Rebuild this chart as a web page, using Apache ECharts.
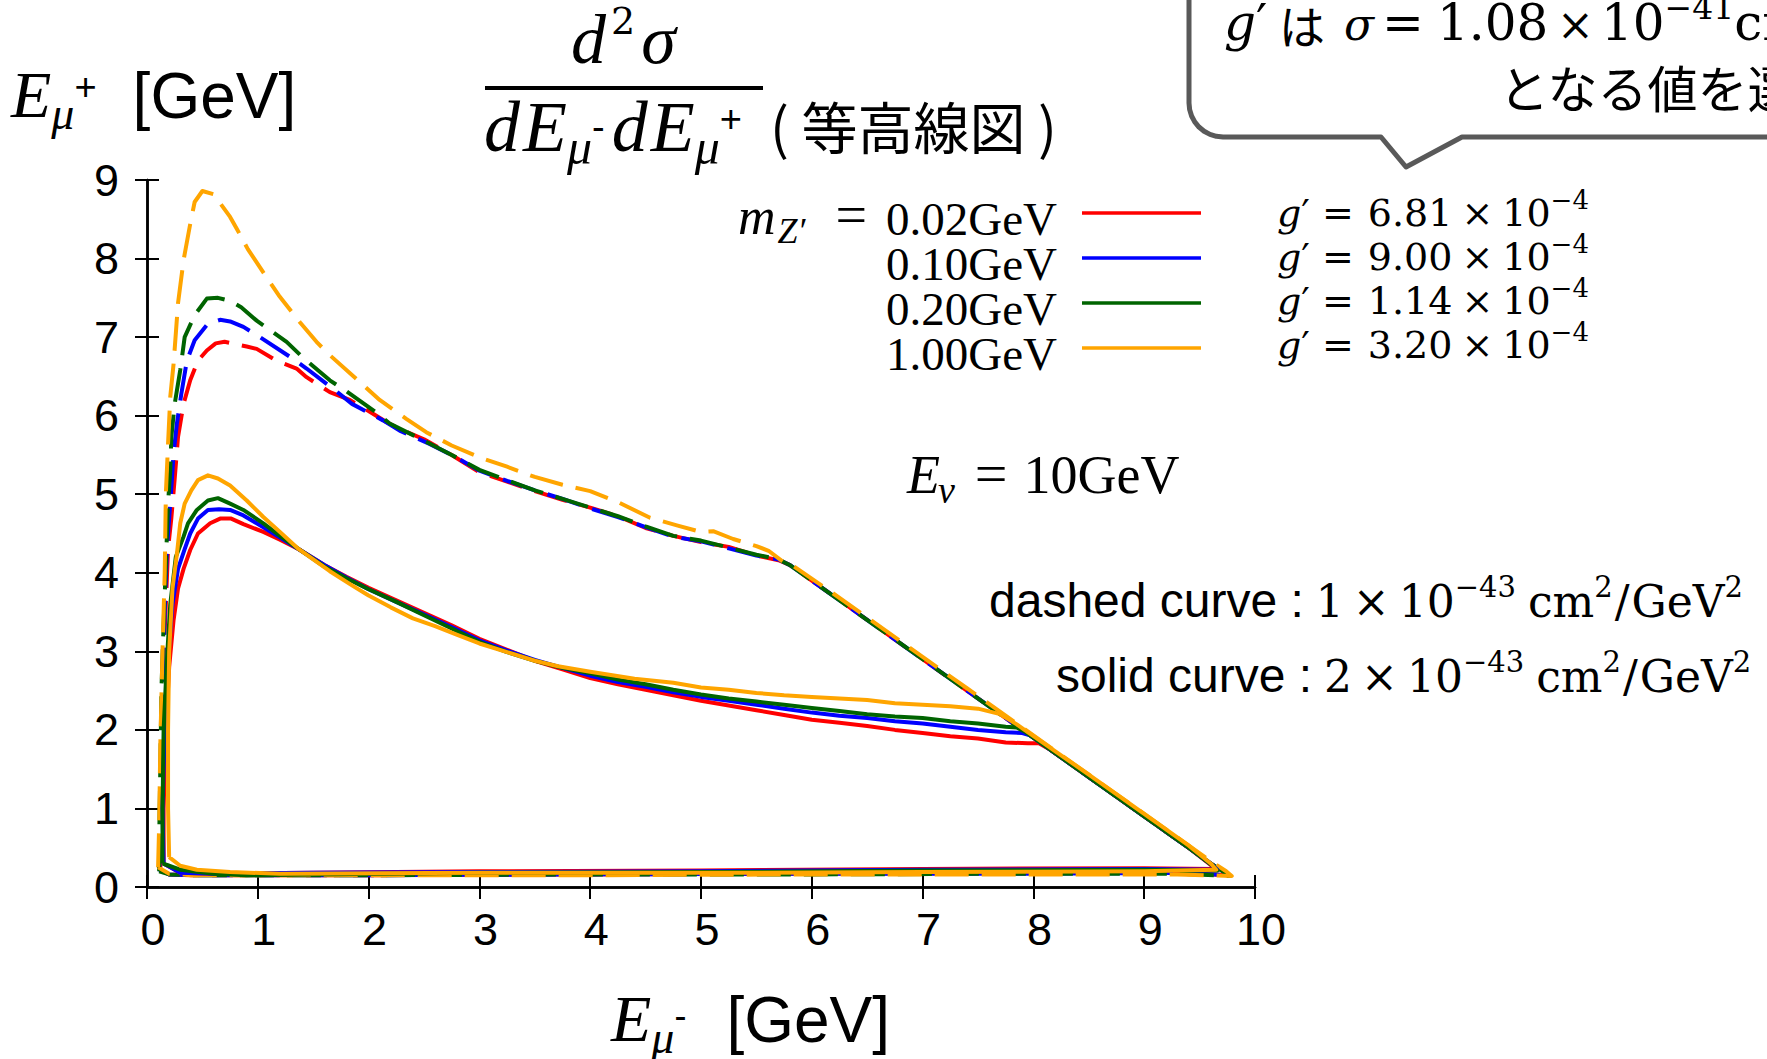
<!DOCTYPE html>
<html>
<head>
<meta charset="utf-8">
<script src="https://cdn.jsdelivr.net/npm/echarts@6/dist/echarts.min.js"></script>
<style>
  html, body { margin: 0; padding: 0; background: #fff; }
  #chart { width: 1767px; height: 1059px; }
</style>
</head>
<body>
<div id="chart"></div>
<script>
// contour lines of d2sigma/dE-dE+ , [E_mu-, E_mu+] in GeV
const massLabels = ['0.02GeV', '0.10GeV', '0.20GeV', '1.00GeV'];
const couplings = ['6.81', '9.00', '1.14', '3.20'];
const colors = ['#ff0000', '#0000ff', '#006400', '#ffa500'];

// 1e-43 cm2/GeV2 level (dashed)
const redDashed = [
  [0.12,0.22],[0.12,0.6],[0.13,1.5],[0.14,2.4],[0.15,2.95],[0.17,3.6],[0.19,4.3],[0.22,4.7],[0.25,5.2],
  [0.28,5.73],[0.33,6.15],[0.39,6.45],[0.46,6.7],[0.54,6.83],[0.62,6.92],[0.7,6.94],[0.8,6.91],[0.9,6.88],
  [0.99,6.85],[1.17,6.7],[1.35,6.6],[1.44,6.49],[1.65,6.3],[1.83,6.2],[2.0,6.06],[2.16,5.92],[2.28,5.83],
  [2.5,5.7],[2.75,5.5],[3.0,5.28],[3.25,5.16],[3.5,5.04],[3.75,4.93],[4.0,4.83],[4.25,4.72],[4.5,4.57],
  [4.75,4.47],[5.0,4.39],[5.25,4.33],[5.5,4.22],[5.7,4.16],[5.8,4.1],
  [6.2,3.7],[6.6,3.3],[7.0,2.9],[7.4,2.5],[7.8,2.1],[8.2,1.7],[8.6,1.3],[9.0,0.9],[9.4,0.5],[9.6,0.3],
  [9.72,0.19],[9.76,0.15],
  [9.3,0.18],[8.0,0.18],[6.0,0.17],[4.0,0.16],[2.0,0.15],[1.0,0.15],[0.4,0.15],[0.2,0.16],[0.12,0.22]
];
const blueDashed = [
  [0.11,0.22],[0.12,0.6],[0.13,1.5],[0.14,2.5],[0.16,3.5],[0.18,4.3],[0.22,5.09],[0.24,5.52],[0.27,5.9],
  [0.31,6.28],[0.36,6.7],[0.43,6.96],[0.55,7.17],[0.66,7.22],[0.75,7.2],[0.87,7.13],[1.02,7.0],[1.29,6.75],
  [1.44,6.6],[1.7,6.32],[1.85,6.15],[2.13,5.94],[2.28,5.81],[2.55,5.64],[2.75,5.5],[3.0,5.3],[3.25,5.17],
  [3.5,5.05],[3.75,4.94],[4.0,4.82],[4.25,4.71],[4.5,4.58],[4.75,4.46],[5.0,4.4],[5.25,4.31],[5.5,4.22],
  [5.7,4.17],[5.8,4.1],
  [6.2,3.7],[6.6,3.3],[7.0,2.9],[7.4,2.5],[7.8,2.1],[8.2,1.7],[8.6,1.3],[9.0,0.9],[9.4,0.5],[9.6,0.3],
  [9.72,0.19],[9.76,0.15],
  [9.3,0.18],[8.0,0.17],[6.0,0.17],[4.0,0.16],[2.0,0.15],[1.0,0.15],[0.4,0.15],[0.2,0.16],[0.11,0.22]
];
const greenDashed = [
  [0.11,0.2],[0.11,0.6],[0.12,1.5],[0.13,2.5],[0.15,3.35],[0.17,4.1],[0.19,4.88],[0.21,5.31],[0.22,5.73],
  [0.25,6.15],[0.3,6.58],[0.34,7.0],[0.43,7.28],[0.54,7.49],[0.64,7.5],[0.75,7.46],[0.85,7.38],[0.99,7.21],
  [1.26,6.94],[1.4,6.75],[1.65,6.45],[1.79,6.32],[2.06,6.05],[2.19,5.9],[2.49,5.69],[2.75,5.5],[3.0,5.31],
  [3.25,5.18],[3.5,5.05],[3.75,4.94],[4.0,4.83],[4.25,4.72],[4.5,4.59],[4.75,4.47],[5.0,4.41],[5.25,4.32],
  [5.5,4.23],[5.7,4.17],[5.8,4.1],
  [6.2,3.7],[6.6,3.3],[7.0,2.9],[7.4,2.5],[7.8,2.1],[8.2,1.7],[8.6,1.3],[9.0,0.9],[9.4,0.5],[9.6,0.3],
  [9.72,0.19],[9.77,0.14],
  [9.3,0.17],[8.0,0.17],[6.0,0.16],[4.0,0.16],[2.0,0.15],[1.0,0.15],[0.4,0.15],[0.2,0.16],[0.11,0.2]
];
const orangeDashed = [
  [0.1,0.25],[0.11,0.8],[0.12,1.8],[0.14,3.0],[0.16,4.0],[0.17,5.0],[0.19,5.64],[0.21,6.24],[0.24,6.66],
  [0.28,7.43],[0.33,7.98],[0.39,8.44],[0.43,8.72],[0.5,8.86],[0.6,8.82],[0.75,8.53],[0.81,8.38],[0.91,8.12],
  [1.08,7.76],[1.19,7.53],[1.38,7.19],[1.53,6.94],[1.65,6.77],[1.95,6.39],[2.1,6.2],[2.34,5.96],[2.52,5.79],
  [2.75,5.62],[3.0,5.47],[3.25,5.35],[3.5,5.22],[3.75,5.12],[4.0,5.04],[4.25,4.9],[4.54,4.7],[4.79,4.6],
  [5.0,4.52],[5.11,4.53],[5.29,4.43],[5.5,4.34],[5.61,4.28],[5.75,4.13],[5.82,4.1],
  [6.2,3.73],[6.6,3.33],[7.0,2.93],[7.4,2.53],[7.8,2.13],[8.2,1.73],[8.6,1.33],[9.0,0.93],[9.4,0.53],
  [9.62,0.31],[9.74,0.2],[9.79,0.14],
  [9.3,0.16],[8.0,0.16],[6.0,0.16],[4.0,0.15],[2.0,0.15],[1.0,0.15],[0.4,0.15],[0.2,0.17],[0.1,0.25]
];

// 2e-43 cm2/GeV2 level (solid)
const redSolid = [
  [0.15,0.3],[0.15,1.0],[0.17,2.0],[0.2,2.8],[0.24,3.4],[0.28,3.8],[0.33,4.05],[0.39,4.29],[0.46,4.5],
  [0.57,4.63],[0.66,4.69],[0.76,4.69],[0.87,4.62],[1.05,4.52],[1.2,4.42],[1.37,4.3],[1.6,4.1],[1.8,3.95],
  [2.0,3.81],[2.25,3.65],[2.5,3.49],[2.75,3.33],[3.0,3.16],[3.25,3.02],[3.5,2.88],[3.75,2.77],[4.0,2.66],
  [4.25,2.58],[4.5,2.51],[4.75,2.44],[5.0,2.37],[5.25,2.31],[5.5,2.25],[5.75,2.19],[6.0,2.13],[6.25,2.09],
  [6.5,2.05],[6.75,2.0],[7.0,1.96],[7.25,1.92],[7.5,1.89],[7.75,1.84],[7.95,1.83],[8.05,1.83],[8.15,1.75],
  [8.6,1.3],[9.0,0.9],[9.4,0.5],[9.6,0.28],[9.64,0.23],
  [9.0,0.24],[7.0,0.23],[5.0,0.21],[3.0,0.2],[1.5,0.18],[0.6,0.17],[0.3,0.18],[0.15,0.3]
];
const blueSolid = [
  [0.15,0.3],[0.14,1.0],[0.16,2.0],[0.19,2.9],[0.23,3.6],[0.28,4.05],[0.34,4.3],[0.39,4.5],[0.46,4.69],
  [0.55,4.8],[0.65,4.81],[0.75,4.8],[0.87,4.73],[1.05,4.58],[1.2,4.45],[1.37,4.3],[1.6,4.1],[1.8,3.94],
  [2.0,3.79],[2.25,3.63],[2.5,3.47],[2.75,3.31],[3.0,3.14],[3.25,3.01],[3.5,2.89],[3.75,2.79],[4.0,2.69],
  [4.25,2.61],[4.5,2.55],[4.75,2.48],[5.0,2.42],[5.25,2.37],[5.5,2.32],[5.75,2.27],[6.0,2.22],[6.25,2.18],
  [6.5,2.15],[6.75,2.11],[7.0,2.08],[7.25,2.04],[7.5,2.0],[7.75,1.97],[7.9,1.96],[7.97,1.93],
  [8.5,1.4],[9.0,0.9],[9.4,0.5],[9.62,0.27],[9.66,0.22],
  [9.0,0.23],[7.0,0.22],[5.0,0.2],[3.0,0.19],[1.5,0.18],[0.6,0.17],[0.3,0.18],[0.15,0.3]
];
const greenSolid = [
  [0.14,0.3],[0.14,1.0],[0.15,2.0],[0.18,2.9],[0.21,3.6],[0.26,4.2],[0.33,4.46],[0.37,4.63],[0.45,4.8],
  [0.55,4.92],[0.64,4.95],[0.75,4.88],[0.87,4.8],[1.05,4.63],[1.2,4.47],[1.37,4.3],[1.6,4.08],[1.8,3.93],
  [2.0,3.79],[2.25,3.63],[2.5,3.46],[2.75,3.29],[3.0,3.12],[3.25,2.99],[3.5,2.88],[3.75,2.79],[4.0,2.72],
  [4.25,2.64],[4.5,2.58],[4.75,2.51],[5.0,2.45],[5.25,2.4],[5.5,2.36],[5.75,2.32],[6.0,2.28],[6.25,2.24],
  [6.5,2.2],[6.75,2.17],[7.0,2.15],[7.25,2.11],[7.5,2.08],[7.75,2.04],[7.85,2.03],[7.92,1.98],
  [8.5,1.4],[9.0,0.9],[9.4,0.5],[9.62,0.27],[9.66,0.21],
  [9.0,0.22],[7.0,0.21],[5.0,0.19],[3.0,0.18],[1.5,0.16],[0.9,0.15],[0.6,0.17],[0.3,0.22],[0.18,0.28],[0.14,0.3]
];
const orangeSolid = [
  [0.2,0.38],[0.19,1.0],[0.19,2.0],[0.2,3.0],[0.23,3.8],[0.27,4.24],[0.3,4.63],[0.34,4.88],[0.4,5.05],
  [0.46,5.18],[0.55,5.24],[0.64,5.2],[0.75,5.11],[0.9,4.92],[1.05,4.71],[1.2,4.52],[1.37,4.3],[1.65,4.02],
  [1.85,3.84],[2.0,3.71],[2.2,3.56],[2.4,3.42],[2.6,3.32],[2.8,3.21],[3.0,3.1],[3.25,2.99],[3.5,2.88],
  [3.71,2.81],[4.0,2.74],[4.4,2.65],[4.75,2.6],[5.0,2.54],[5.25,2.51],[5.5,2.47],[5.75,2.44],[6.0,2.42],
  [6.25,2.4],[6.5,2.38],[6.75,2.34],[7.0,2.32],[7.25,2.3],[7.5,2.27],[7.7,2.2],[7.85,2.07],[7.92,2.0],
  [8.5,1.43],[9.0,0.93],[9.4,0.53],[9.6,0.3],[9.65,0.22],
  [9.0,0.2],[7.0,0.19],[5.0,0.18],[3.0,0.18],[1.2,0.17],[0.75,0.19],[0.45,0.22],[0.3,0.27],[0.2,0.38]
];

const dashedSets = [redDashed, blueDashed, greenDashed, orangeDashed];
const solidSets = [redSolid, blueSolid, greenSolid, orangeSolid];

// ---------- text helpers ----------
const SERIF = '"Liberation Serif", serif';
const MATH = '"DejaVu Serif", serif';
const SANS = '"Liberation Sans", Arial, sans-serif';
const JP = '"Noto Sans CJK JP", sans-serif';

const mctx = document.createElement('canvas').getContext('2d');
function fontOf(p) { return (p.it ? 'italic ' : '') + p.s + 'px ' + p.f; }

// base = baseline y
function tx(x, base, text, size, family, italic, align) {
  const a = align || 'left';
  return {
    type: 'text', z: 100, silent: true,
    style: {
      x: x, y: base - 0.35 * size, text: text,
      font: (italic ? 'italic ' : '') + size + 'px ' + family,
      fill: '#000',
      textAlign: a, align: a,
      textVerticalAlign: 'middle', verticalAlign: 'middle'
    }
  };
}

// lay text runs one after another on a baseline ('at' pins a run to an x position)
function flow(x0, base, parts) {
  const out = [];
  let x = x0;
  parts.forEach(p => {
    const px = p.at != null ? p.at : x;
    mctx.font = fontOf(p);
    out.push(tx(px, base - (p.up || 0), p.t, p.s, p.f, p.it));
    x = px + mctx.measureText(p.t).width + (p.gap || 0);
  });
  return out;
}

const graphics = [];

// y axis title
graphics.push(...flow(11, 118, [
  { t: 'E', s: 66, f: SERIF, it: true, gap: 0 },
  { t: 'μ', s: 46, f: SERIF, it: true, up: -12, gap: 0 },
  { t: '+', s: 38, f: SANS, up: 18, gap: 36 },
  { t: '[GeV]', s: 64, f: SANS }
]));

// x axis title
graphics.push(...flow(611, 1042, [
  { t: 'E', s: 66, f: SERIF, it: true, gap: 0 },
  { t: 'μ', s: 46, f: SERIF, it: true, up: -12, gap: 0 },
  { t: '-', s: 36, f: SANS, up: 14, gap: 40 },
  { t: '[GeV]', s: 64, f: SANS }
]));

// title: fraction
graphics.push(...flow(571, 64, [
  { t: 'd', s: 70, f: SERIF, it: true, gap: 5 },
  { t: '2', s: 38, f: MATH, up: 30, gap: 6 },
  { t: 'σ', s: 70, f: SERIF, it: true }
]));
graphics.push({ type: 'rect', z: 100, silent: true, shape: { x: 485, y: 86, width: 278, height: 4 }, style: { fill: '#000' } });
graphics.push(...flow(484, 152, [
  { t: 'd', s: 72, f: SERIF, it: true, gap: 3 },
  { t: 'E', s: 72, f: SERIF, it: true, gap: 0 },
  { t: 'μ', s: 50, f: SERIF, it: true, up: -12, gap: 0 },
  { t: '-', s: 38, f: SANS, up: 12, gap: 7 },
  { t: 'd', s: 72, f: SERIF, it: true, gap: 3 },
  { t: 'E', s: 72, f: SERIF, it: true, gap: 0 },
  { t: 'μ', s: 50, f: SERIF, it: true, up: -12, gap: 0 },
  { t: '+', s: 38, f: SANS, up: 20, gap: 0 }
]));
graphics.push(tx(770, 144, '( 等高線図 )', 56, JP));

// callout box (top right)
const box = [[1189, -20], [1189, 103]];
for (let k = 1; k <= 8; k++) {
  const a = Math.PI - k * Math.PI / 16;
  box.push([1223 + 34 * Math.cos(a), 103 + 34 * Math.sin(a)]);
}
box.push([1381, 137], [1406, 167], [1462, 137], [1800, 137]);
graphics.push({ type: 'polyline', z: 100, silent: true, shape: { points: box },
  style: { stroke: '#595959', lineWidth: 5, fill: null, lineJoin: 'round' } });
graphics.push(...flow(1224, 40, [
  { t: 'g', s: 50, f: MATH, it: true, gap: 0 },
  { t: '′', s: 50, f: MATH },
  { t: 'は', s: 46, f: JP, at: 1279 },
  { t: 'σ', s: 44, f: MATH, it: true, at: 1344 },
  { t: '=', s: 50, f: MATH, at: 1382 },
  { t: '1.08', s: 50, f: MATH, at: 1437 },
  { t: '×', s: 44, f: MATH, at: 1557 },
  { t: '10', s: 50, f: MATH, at: 1601, gap: 0 },
  { t: '−41', s: 33, f: MATH, up: 21, gap: 0 },
  { t: 'cm', s: 50, f: MATH }
]));
graphics.push(tx(1499, 103, 'となる値を選', 50, JP));

// legend inside plot
graphics.push(...flow(738, 235, [
  { t: 'm', s: 52, f: SERIF, it: true, gap: 2 },
  { t: 'Z′', s: 36, f: SERIF, it: true, up: -9, gap: 30 },
  { t: '=', s: 56, f: SERIF }
]));
massLabels.forEach((lab, i) => {
  const base = 235 + i * 45;
  graphics.push(tx(1057, base, lab, 47, SERIF, false, 'right'));
  graphics.push({ type: 'line', z: 100, silent: true,
    shape: { x1: 1082, y1: base - 22, x2: 1201, y2: base - 22 },
    style: { stroke: colors[i], lineWidth: 3.5 } });
});

// coupling labels to the right of the frame
couplings.forEach((g, i) => {
  graphics.push(...flow(1277, 226 + i * 44, [
    { t: 'g', s: 38, f: MATH, it: true, gap: 0 },
    { t: '′', s: 38, f: MATH, gap: 12 },
    { t: '=', s: 38, f: MATH, gap: 14 },
    { t: g, s: 38, f: MATH, gap: 9 },
    { t: '×', s: 38, f: MATH, gap: 9 },
    { t: '10', s: 38, f: MATH, gap: 0 },
    { t: '−4', s: 26, f: MATH, up: 17 }
  ]));
});

// E_nu
graphics.push(...flow(907, 494, [
  { t: 'E', s: 54, f: SERIF, it: true, gap: -2 },
  { t: 'ν', s: 38, f: SERIF, it: true, up: -9, gap: 20 },
  { t: '=', s: 58, f: SERIF, gap: 16 },
  { t: '10GeV', s: 54, f: SERIF }
]));

// level notes (white box hides part of the right frame)
graphics.push({ type: 'rect', z: 50, silent: true, shape: { x: 1045, y: 559, width: 722, height: 156 }, style: { fill: '#fff' } });
[['dashed curve :', '1', 989, 617], ['solid curve :', '2', 1056, 692]].forEach(r => {
  graphics.push(...flow(r[2], r[3], [
    { t: r[0], s: 48, f: SANS, gap: 12 },
    { t: r[1], s: 44, f: MATH, gap: 9 },
    { t: '×', s: 44, f: MATH, gap: 9 },
    { t: '10', s: 44, f: MATH, gap: 0 },
    { t: '−43', s: 29, f: MATH, up: 20, gap: 12 },
    { t: 'cm', s: 44, f: MATH, gap: 0 },
    { t: '2', s: 29, f: MATH, up: 20, gap: 2 },
    { t: '/', s: 44, f: MATH, gap: 2 },
    { t: 'GeV', s: 44, f: MATH, gap: 0 },
    { t: '2', s: 29, f: MATH, up: 20 }
  ]));
});

// ---------- chart ----------
const axisCommon = {
  type: 'value',
  interval: 1,
  axisLine: { show: true, lineStyle: { color: '#000', width: 2.5 } },
  axisTick: { show: true, inside: true, length: 12, lineStyle: { color: '#000', width: 2 } },
  splitLine: { show: false }
};

function contour(name, data, color, dashed) {
  return {
    type: 'line', name: name, data: data,
    symbol: 'none', showSymbol: false, smooth: false, clip: true,
    lineStyle: { color: color, width: 4, type: dashed ? [34, 13] : 'solid', cap: 'butt', join: 'round' },
    z: dashed ? 2 : 3
  };
}

const series = [];
dashedSets.forEach((d, i) => series.push(contour(massLabels[i] + ' 1e-43', d, colors[i], true)));
solidSets.forEach((d, i) => series.push(contour(massLabels[i] + ' 2e-43', d, colors[i], false)));

const chart = echarts.init(document.getElementById('chart'), null, { renderer: 'svg' });
chart.setOption({
  animation: false,
  backgroundColor: '#fff',
  grid: { left: 147, top: 180, width: 1108, height: 707, containLabel: false },
  xAxis: [
    Object.assign({}, axisCommon, {
      position: 'bottom', min: 0, max: 10,
      axisLabel: { show: true, fontFamily: SANS, fontSize: 45, color: '#000', margin: 20, padding: [0, 0, 0, 12] }
    }),
    Object.assign({}, axisCommon, { position: 'top', min: 0, max: 10, axisLabel: { show: false } })
  ],
  yAxis: [
    Object.assign({}, axisCommon, {
      position: 'left', min: 0, max: 9,
      axisLabel: { show: true, fontFamily: SANS, fontSize: 45, color: '#000', margin: 28 }
    }),
    Object.assign({}, axisCommon, { position: 'right', min: 0, max: 9, axisLabel: { show: false } })
  ],
  series: series,
  graphic: graphics
});
</script>
</body>
</html>
